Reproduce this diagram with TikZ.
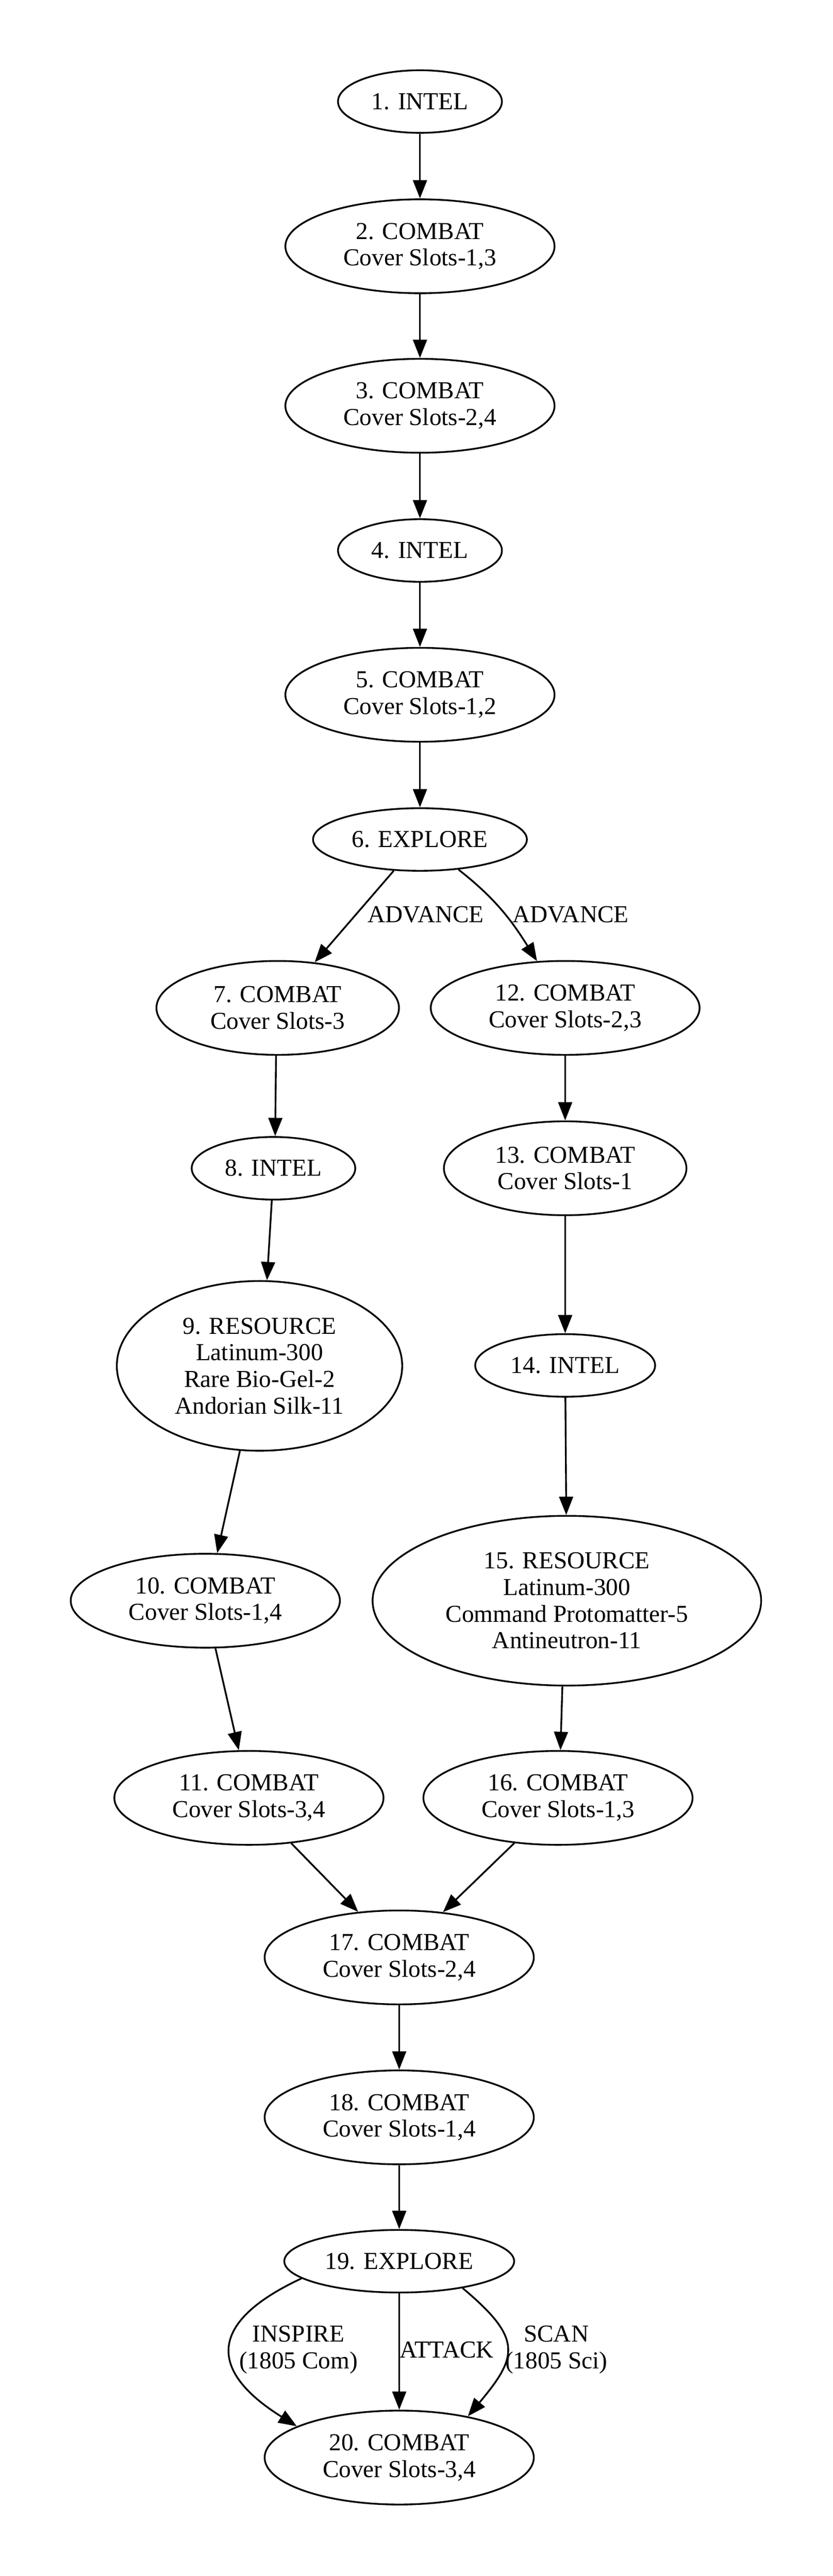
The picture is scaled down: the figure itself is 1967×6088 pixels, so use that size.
\documentclass[tikz,border=0pt]{standalone}
\usepackage{fontspec}
\setmainfont{Liberation Serif}
\usetikzlibrary{shapes.geometric,arrows.meta}
\tikzset{
    mission-node/.style = {draw=black, ellipse, line width=1pt, inner sep=0pt, align=center, font=\fontsize{14}{15.3}\selectfont},
    one-line/.style = {mission-node, minimum height=36pt},
    two-line/.style = {mission-node, minimum height=54pt},
    four-line/.style = {mission-node, minimum height=97.6pt},
    mission-edge/.style = {line width=1pt, -{Triangle[length=10.5pt, width=8pt]}},
    edge-label/.style = {inner sep=0pt, align=center, font=\fontsize{14}{15.3}\selectfont},
}

\begin{document}
\begin{tikzpicture}[x=0.2433pt, y=0.2433pt]
\fill[white] (0,0) rectangle (1967,-6088);
\useasboundingbox (0,0) rectangle (1967,-6088);

\node[one-line, minimum width=94.2pt] (n1) at (992,-240) {1. INTEL};
\node[two-line, minimum width=154.7pt] (n2) at (992,-582) {2. COMBAT\\Cover Slots-1,3};
\node[two-line, minimum width=154.7pt] (n3) at (992,-959) {3. COMBAT\\Cover Slots-2,4};
\node[one-line, minimum width=94.2pt] (n4) at (992,-1301) {4. INTEL};
\node[two-line, minimum width=154.7pt] (n5) at (992,-1642) {5. COMBAT\\Cover Slots-1,2};
\node[one-line, minimum width=122.9pt] (n6) at (992,-1984) {6. EXPLORE};
\node[two-line, minimum width=139.4pt] (n7) at (656,-2382) {7. COMBAT\\Cover Slots-3};
\node[one-line, minimum width=94pt] (n8) at (646,-2761) {8. INTEL};
\node[four-line, minimum width=164pt] (n9) at (613,-3228) {9. RESOURCE\\Latinum-300\\Rare Bio-Gel-2\\Andorian Silk-11};
\node[two-line, minimum width=154.7pt] (n10) at (485,-3783) {10. COMBAT\\Cover Slots-1,4};
\node[two-line, minimum width=154.7pt] (n11) at (588,-4249) {11. COMBAT\\Cover Slots-3,4};
\node[two-line, minimum width=154.5pt] (n12) at (1335,-2382) {12. COMBAT\\Cover Slots-2,3};
\node[two-line, minimum width=139.4pt] (n13) at (1335,-2761) {13. COMBAT\\Cover Slots-1};
\node[one-line, minimum width=103.4pt] (n14) at (1335,-3227) {14. INTEL};
\node[four-line, minimum width=223.3pt] (n15) at (1339,-3783) {15. RESOURCE\\Latinum-300\\Command Protomatter-5\\Antineutron-11};
\node[two-line, minimum width=154.7pt] (n16) at (1318,-4249) {16. COMBAT\\Cover Slots-1,3};
\node[two-line, minimum width=154.7pt] (n17) at (943,-4626) {17. COMBAT\\Cover Slots-2,4};
\node[two-line, minimum width=154.7pt] (n18) at (943,-5004) {18. COMBAT\\Cover Slots-1,4};
\node[one-line, minimum width=132.1pt] (n19) at (943,-5344) {19. EXPLORE};
\node[two-line, minimum width=154.7pt] (n20) at (943,-5808) {20. COMBAT\\Cover Slots-3,4};

\node[edge-label] (advance-left) at (1006,-2161) {ADVANCE};
\node[edge-label] (advance-right) at (1348,-2161) {ADVANCE};
\node[edge-label] (inspire) at (705,-5553) {INSPIRE\\(1805 Com)};
\node[edge-label] (attack) at (1055,-5554) {ATTACK};
\node[edge-label] (scan) at (1314,-5553) {SCAN\\(1805 Sci)};

\draw[mission-edge] (n1) -- (n2);
\draw[mission-edge] (n2) -- (n3);
\draw[mission-edge] (n3) -- (n4);
\draw[mission-edge] (n4) -- (n5);
\draw[mission-edge] (n5) -- (n6);
\draw[mission-edge] (n6.230) -- (n7.51);
\draw[mission-edge] (n6.322) to[out=-38, in=122] (n12.121);
\draw[mission-edge] (n7.268) -- (n8.87);
\draw[mission-edge] (n8.267) -- (n9.85);
\draw[mission-edge] (n9.257) -- (n10.76);
\draw[mission-edge] (n10.282) -- (n11.102);
\draw[mission-edge] (n12) -- (n13);
\draw[mission-edge] (n13) -- (n14);
\draw[mission-edge] (n14) -- (n15);
\draw[mission-edge] (n15.267) -- (n16.87);
\draw[mission-edge] (n11.313) -- (n17.132);
\draw[mission-edge] (n16.226) -- (n17.46);
\draw[mission-edge] (n17) -- (n18);
\draw[mission-edge] (n18) -- (n19);
\draw[mission-edge] (n19.190) to[out=205, in=148, looseness=1.8] (n20.163);
\draw[mission-edge] (n19) -- (n20);
\draw[mission-edge] (n19.337) to[out=-40, in=50, looseness=1.56] (n20.31);
\end{tikzpicture}
\end{document}
